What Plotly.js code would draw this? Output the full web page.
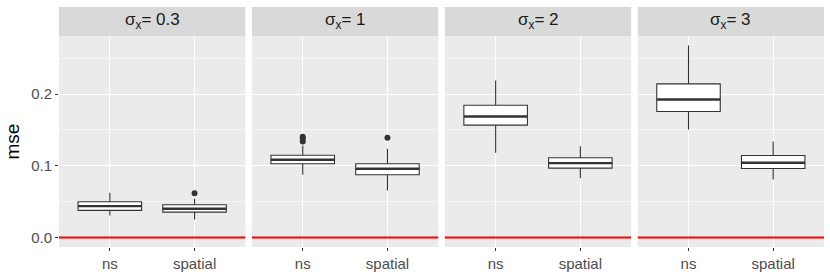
<!DOCTYPE html>
<html><head><meta charset="utf-8">
<script src="https://cdn.plot.ly/plotly-3.0.1.min.js"></script>
<style>html,body{margin:0;padding:0;background:#fff}</style>
</head><body><div id="chart" style="width:830px;height:277px"></div>
<script>
const panelLabels = ['0.3', '1', '2', '3'];
const methods = ['ns', 'spatial'];
const lowerFence = [[0.0307, 0.0251], [0.0874, 0.0655], [0.1181, 0.0827], [0.1506, 0.0809]];
const q1 = [[0.0377, 0.0353], [0.1028, 0.0874], [0.1567, 0.0967], [0.1757, 0.0962]];
const median = [[0.0437, 0.0400], [0.1084, 0.0958], [0.1688, 0.1037], [0.1925, 0.1042]];
const q3 = [[0.0498, 0.0456], [0.1148, 0.1028], [0.1845, 0.1112], [0.2143, 0.1144]];
const upperFence = [[0.0623, 0.0540], [0.1283, 0.1237], [0.2190, 0.1273], [0.2678, 0.1339]];
const outlierPanel = [0, 1, 1, 1, 1];
const outlierMethod = [1, 0, 0, 0, 1];
const outlierValue = [0.0618, 0.1404, 0.1380, 0.1340, 0.1390];
const yTicks = [0, 0.1, 0.2];
const yTickText = ['0.0', '0.1', '0.2'];
const refLine = 0;

const W = 765, panelW = 186.4, gap = 6.5;
const stripH = 29, plotH = 211;
const boxWidth = 0.75;
const dark = '#333333';
const font = 'Liberation Sans, Arial, sans-serif';

const traces = [];
const layout = {
  width: 830, height: 277,
  margin: {l: 59, r: 6, t: 36, b: 30, pad: 0},
  paper_bgcolor: '#ffffff', plot_bgcolor: '#EBEBEB',
  showlegend: false, hovermode: false,
  font: {family: font, size: 15, color: '#4D4D4D'},
  shapes: [], annotations: []
};

for (let p = 0; p < panelLabels.length; p++) {
  const sx = p === 0 ? '' : String(p + 1);
  const xa = 'x' + sx, ya = 'y' + sx;
  const d0 = (p * (panelW + gap)) / W;
  const d1 = Math.min(1, (p * (panelW + gap) + panelW) / W);
  layout['xaxis' + sx] = {
    domain: [d0, d1], anchor: ya, range: [-0.6, 1.6],
    tickmode: 'array', tickvals: [0, 1], ticktext: methods,
    showgrid: true, gridcolor: '#ffffff', gridwidth: 1.1, zeroline: false,
    ticks: 'outside', ticklen: 3, tickwidth: 1, tickcolor: dark,
    tickfont: {family: font, size: 15, color: '#4D4D4D'}, showline: false, fixedrange: true
  };
  layout['yaxis' + sx] = {
    domain: [0, 1], anchor: xa, range: [-0.0134, 0.2812],
    tickmode: 'array', tickvals: yTicks, ticktext: yTickText,
    showgrid: true, gridcolor: '#ffffff', gridwidth: 1.1, zeroline: false,
    minor: {tickvals: [0.05, 0.15, 0.25], showgrid: true, gridcolor: '#ffffff', gridwidth: 0.5, ticks: ''},
    showticklabels: p === 0, ticks: p === 0 ? 'outside' : '', ticklen: 3, tickwidth: 1, tickcolor: dark,
    tickfont: {family: font, size: 15, color: '#4D4D4D'}, fixedrange: true
  };
  if (p === 0) {
    layout.yaxis.title = {text: 'mse', font: {family: font, size: 19, color: '#000000'}, standoff: 6};
  }
  layout.shapes.push({type: 'rect', xref: xa + ' domain', yref: 'paper', x0: 0, x1: 1, y0: 1, y1: 1 + stripH / plotH,
    fillcolor: '#D9D9D9', line: {width: 0}, layer: 'below'});
  layout.annotations.push({xref: xa + ' domain', yref: 'paper', x: 0.5, y: 1 + stripH / plotH / 2,
    text: 'σ<sub>x</sub>= ' + panelLabels[p], showarrow: false, xanchor: 'center', yanchor: 'middle',
    font: {family: font, size: 17, color: '#1A1A1A'}});
  layout.shapes.push({type: 'line', xref: xa + ' domain', yref: ya, x0: 0, x1: 1, y0: refLine, y1: refLine,
    line: {color: '#FF0000', width: 2}, layer: 'above'});

  for (let m = 0; m < methods.length; m++) {
    traces.push({
      type: 'box', xaxis: xa, yaxis: ya, x: [m],
      q1: [q1[p][m]], median: [median[p][m]], q3: [q3[p][m]],
      lowerfence: [lowerFence[p][m]], upperfence: [upperFence[p][m]],
      width: boxWidth, whiskerwidth: 0, boxpoints: false,
      fillcolor: '#ffffff', line: {color: dark, width: 1.1}, hoverinfo: 'skip'
    });
    traces.push({
      type: 'scatter', mode: 'lines', xaxis: xa, yaxis: ya,
      x: [m - boxWidth / 2, m + boxWidth / 2], y: [median[p][m], median[p][m]],
      line: {color: dark, width: 2.4}, hoverinfo: 'skip'
    });
  }
  const ox = [], oy = [];
  for (let i = 0; i < outlierValue.length; i++) {
    if (outlierPanel[i] === p) { ox.push(outlierMethod[i]); oy.push(outlierValue[i]); }
  }
  if (ox.length) {
    traces.push({type: 'scatter', mode: 'markers', xaxis: xa, yaxis: ya, x: ox, y: oy,
      marker: {color: dark, size: 6}, hoverinfo: 'skip'});
  }
}

Plotly.newPlot('chart', traces, layout, {staticPlot: true, displayModeBar: false});
</script></body></html>
